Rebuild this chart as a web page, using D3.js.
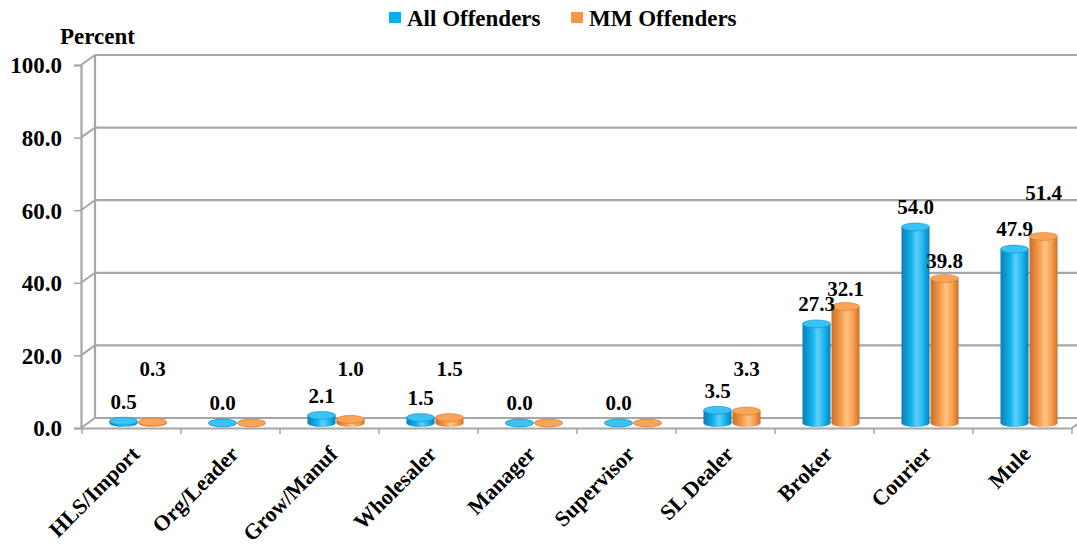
<!DOCTYPE html>
<html><head><meta charset="utf-8">
<script src="https://cdn.jsdelivr.net/npm/d3@7"></script>
<style>
body{margin:0;background:#fff;}
svg text{font-family:"Liberation Serif","Tinos","Times New Roman",serif;font-weight:bold;fill:#000;}
</style></head>
<body>
<svg id="chart" width="1077" height="545"></svg>
<script>
const categories = ["HLS/Import","Org/Leader","Grow/Manuf","Wholesaler","Manager","Supervisor","SL Dealer","Broker","Courier","Mule"];
const allOffenders = [0.5,0.0,2.1,1.5,0.0,0.0,3.5,27.3,54.0,47.9];
const mmOffenders = [0.3,0.0,1.0,1.5,0.0,0.0,3.3,32.1,39.8,51.4];
const seriesNames = ["All Offenders","MM Offenders"];
const yTicks = [0,20,40,60,80,100];

const svg = d3.select("#chart");
const FONT = '"Liberation Serif", "Tinos", "Times New Roman", serif';
const depthX = 14, depthY = 10;
const frontLeft = 81, frontBottom = 428, frontTop = 65;
const yFront = d3.scaleLinear().domain([0,100]).range([frontBottom, frontTop]);
const yBack = d3.scaleLinear().domain([0,100]).range([frontBottom-depthY, frontTop-depthY]);
const yBar = d3.scaleLinear().domain([0,100]).range([frontBottom-depthY/2, frontTop-depthY/2]);
const x = d3.scaleBand().domain(categories).range([82, 1072]).padding(0);
const xSub = d3.scaleBand().domain(seriesNames).range([27, 85]);

const wallColor = "#a6a6a6";
const grid = svg.append("g");
grid.selectAll("line.g").data(yTicks).join("line")
  .attr("x1", frontLeft+depthX).attr("x2", 1077)
  .attr("y1", d=>yBack(d)).attr("y2", d=>yBack(d))
  .attr("stroke", wallColor).attr("stroke-width", 2.2);
grid.selectAll("line.d").data(yTicks).join("line")
  .attr("x1", frontLeft).attr("x2", frontLeft+depthX)
  .attr("y1", d=>yFront(d)).attr("y2", d=>yBack(d))
  .attr("stroke", wallColor).attr("stroke-width", 2);
grid.append("line").attr("x1", frontLeft+depthX).attr("x2", frontLeft+depthX)
  .attr("y1", yBack(100)).attr("y2", yBack(0)).attr("stroke", wallColor).attr("stroke-width", 2.2);
grid.append("line").attr("x1", 1072).attr("x2", 1072+depthX)
  .attr("y1", yFront(0)).attr("y2", yBack(0)).attr("stroke", wallColor).attr("stroke-width", 2);

const yAxis = svg.append("g").attr("transform", `translate(${frontLeft},0)`)
  .call(d3.axisLeft(yFront).tickValues(yTicks).tickSize(7).tickPadding(12).tickFormat(d3.format(".1f")));
yAxis.attr("font-family", FONT);
yAxis.select(".domain").attr("stroke", wallColor).attr("stroke-width", 2.2);
yAxis.selectAll(".tick line").attr("stroke", wallColor).attr("stroke-width", 1.5);
yAxis.selectAll(".tick text").style("font-size","23px").attr("dy","0.34em");

const xAxis = svg.append("g").attr("transform", `translate(0,${frontBottom})`)
  .call(d3.axisBottom(x).tickSize(0).tickPadding(0));
xAxis.attr("font-family", FONT);
xAxis.select(".domain").attr("stroke", wallColor).attr("stroke-width", 2.2);
const edges = categories.map(c=>x(c)).concat([x(categories[categories.length-1])+x.bandwidth()]);
xAxis.selectAll("line.edge").data(edges).join("line").attr("class","edge")
  .attr("x1", d=>d).attr("x2", d=>d).attr("y1", 0).attr("y2", 6)
  .attr("stroke", wallColor).attr("stroke-width", 1.5);
xAxis.selectAll(".tick text")
  .style("font-size","22px")
  .attr("text-anchor","end").attr("y", 0).attr("dy", "0.35em")
  .attr("transform", "translate(4,22) rotate(-45)");

const defs = svg.append("defs");
const pal = [
  {id:"gBlue", edge:"#0a7fb5", mid:"#12b2ee", light:"#62cffa", top:"#38c2f5"},
  {id:"gOrange", edge:"#c8702a", mid:"#f99c4b", light:"#ffc487", top:"#f9a457"}
];
pal.forEach(p=>{
  const g = defs.append("linearGradient").attr("id", p.id).attr("x1","0").attr("x2","1").attr("y1","0").attr("y2","0");
  g.append("stop").attr("offset","0").attr("stop-color", p.edge);
  g.append("stop").attr("offset","0.35").attr("stop-color", p.mid);
  g.append("stop").attr("offset","0.55").attr("stop-color", p.light);
  g.append("stop").attr("offset","0.8").attr("stop-color", p.mid);
  g.append("stop").attr("offset","1").attr("stop-color", p.edge);
});

const series = [
  {name: seriesNames[0], values: allOffenders, pal: pal[0]},
  {name: seriesNames[1], values: mmOffenders, pal: pal[1]}
];
const ry = 4;
const bw = xSub.bandwidth() - 1;
const barsG = svg.append("g");
categories.forEach((c,i)=>{
  series.forEach(s=>{
    const v = s.values[i];
    const cx = x(c) + xSub(s.name) + xSub.bandwidth()/2;
    const yb = yBar(0), yt = yBar(v);
    const g = barsG.append("g");
    g.append("ellipse").attr("cx", cx).attr("cy", yb).attr("rx", bw/2).attr("ry", ry)
      .attr("fill", `url(#${s.pal.id})`);
    g.append("rect").attr("x", cx-bw/2).attr("y", yt).attr("width", bw).attr("height", Math.max(0, yb-yt))
      .attr("fill", `url(#${s.pal.id})`);
    g.append("ellipse").attr("cx", cx).attr("cy", yt).attr("rx", bw/2).attr("ry", ry)
      .attr("fill", s.pal.top).attr("stroke", s.pal.edge).attr("stroke-width", 0.5);
  });
});

const labG = svg.append("g");
categories.forEach((c,i)=>{
  const v1 = allOffenders[i];
  const y1 = yBar(v1) - 20;
  labG.append("text").attr("x", x(c)+xSub(seriesNames[0])+xSub.bandwidth()/2)
    .attr("y", y1).attr("dy","0.35em").attr("text-anchor","middle")
    .style("font-size","21px").text(v1.toFixed(1));
  const v2 = mmOffenders[i];
  if (v2 > 0) {
    let y2 = yBar(Math.max(v2+5, 15));
    if (Math.abs(y2 - y1) < 14) y2 = y1 - 36;
    labG.append("text").attr("x", x(c)+xSub(seriesNames[1])+xSub.bandwidth()/2)
      .attr("y", y2).attr("dy","0.35em").attr("text-anchor","middle")
      .style("font-size","21px").text(v2.toFixed(1));
  }
});

svg.append("text").attr("x", 60).attr("y", 44).style("font-size","23px").text("Percent");

const leg = svg.append("g");
const legX = [389, 571];
series.forEach((s,k)=>{
  leg.append("rect").attr("x", legX[k]).attr("y", 12).attr("width", 12).attr("height", 11)
    .attr("fill", k===0 ? "#00b0f0" : "#f79646");
  leg.append("text").attr("x", legX[k]+18).attr("y", 26).style("font-size","23px").text(s.name);
});
</script>
</body></html>
